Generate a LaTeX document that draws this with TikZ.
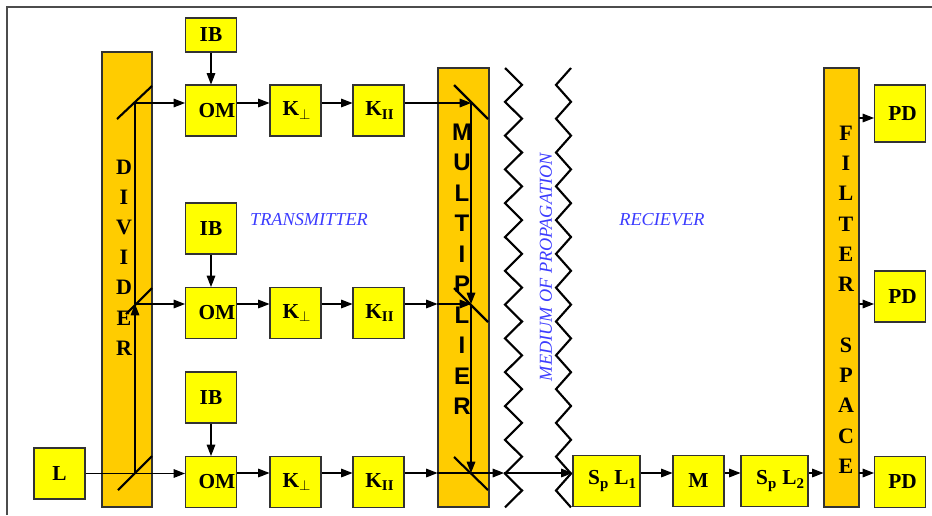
\documentclass[tikz,border=0pt]{standalone}
\usepackage{fontspec}
\setmainfont{Liberation Serif}
\newfontfamily\arialfont{Liberation Sans}
\usetikzlibrary{arrows.meta, positioning}
\definecolor{boxyellow}{RGB}{255,255,0}
\definecolor{barorange}{RGB}{255,204,0}
\definecolor{textblue}{RGB}{60,60,255}
\begin{document}
\begin{tikzpicture}[x=0.75pt, y=-0.75pt, line width=0.8pt, >={Triangle[length=8.5pt,width=6.5pt]}]
	\tikzset{block/.style={draw=black!80, fill=boxyellow, minimum width=38.25pt, minimum height=38.25pt, inner sep=0pt, font=\fontsize{16}{18}\selectfont\bfseries}}
	\tikzset{bar/.style={draw=black!80, fill=barorange, inner sep=0pt}}
	\tikzset{barText/.style={inner sep=0pt, font=\fontsize{16.5}{18}\selectfont\bfseries}}
	\tikzset{mirror/.style={line width=1.6pt}}
	\tikzset{zig/.style={line width=1.6pt, line join=miter}}
	\tikzset{note/.style={inner sep=0pt, text=textblue, font=\fontsize{13.7}{15}\selectfont\itshape}}
		\useasboundingbox (0,0) rectangle (932,515);
		\draw[black!70, line width=1.2pt] (7,515) -- (7,7) -- (932,7);
		% bars
		\node[bar, minimum width=37.5pt, minimum height=341.25pt] (div) at (127,279.5) {};
		\node[bar, minimum width=38.25pt, minimum height=329.25pt] (mul) at (463.5,287.5) {};
		\node[bar, minimum width=26.25pt, minimum height=329.25pt] (flt) at (841.5,287.5) {};
		% zigzag medium
		\draw[zig] plot[samples at={0,...,26}] ({505+17*mod(\x,2)}, {68+16.9*\x});
		\draw[zig] plot[samples at={0,...,26}] ({571-15*mod(\x,2)}, {68+16.9*\x});
		% blocks
		\node[block, minimum height=25.5pt] (ib1) at (211,35) {IB};
		\node[block] (ib2) at (211,228.5) {IB};
		\node[block] (ib3) at (211,397.5) {IB};
		\foreach \r/\y in {1/110.5, 2/313, 3/482} {
			\node[block] (om\r) at (211,\y) {\hspace*{9pt}OM};
			\node[block] (kp\r) at (295.5,\y) {\hspace*{2pt}K\textsubscript{$\perp$}};
			\node[block] (kii\r) at (378.5,\y) {\hspace*{2pt}K\textsubscript{II}};
		}
		\node[block] (L) at (59.5,473.5) {\raisebox{-5pt}{L}};
		\node[block, minimum width=50.25pt] (spl1) at (606.5,481) {\hspace*{9pt}S\textsubscript{p} L\textsubscript{1}};
		\node[block] (m) at (698.5,481) {M};
		\node[block, minimum width=50.25pt] (spl2) at (774.5,481) {\hspace*{9pt}\raisebox{4pt}{S\textsubscript{p} L\textsubscript{2}}};
		\node[block, minimum height=42.75pt] (pd1) at (900,113.5) {\hspace*{4pt}PD};
		\node[block] (pd2) at (900,296.5) {\hspace*{4pt}PD};
		\node[block] (pd3) at (900,482) {\hspace*{4pt}\raisebox{-3pt}{PD}};
		% mirrors
		\draw[mirror] (117,119) -- (152,86);
		\draw[mirror] (126,314) -- (152,288);
		\draw[mirror] (118,490) -- (152,456);
		\draw[mirror] (454,85) -- (488,119);
		\draw[mirror] (454,288) -- (488,322);
		\draw[mirror] (454,457) -- (488,490);
		% junctions
		\foreach \r/\y in {1/103, 2/304, 3/473} {
			\coordinate (dj\r) at (135,\y);
			\coordinate (mj\r) at (471,\y);
		}
		\coordinate (zj) at (504,473);
		\foreach \r/\y in {1/118, 2/304, 3/473} {\coordinate (fj\r) at (859,\y);}
		% divider paths
		\draw[->] (L) -- (L -| om3.west);
		\draw[->] (dj3) -- (dj2);
		\draw (dj2) -- (dj1);
		\draw[->] (dj1) -- (dj1 -| om1.west);
		\draw[->] (dj2) -- (dj2 -| om2.west);
		\draw[->] (ib1) -- (om1);
		\draw[->] (ib2) -- (om2);
		\draw[->] (ib3) -- (om3);
		\foreach \r in {1,2,3} {
			\draw[->] (om\r.east |- dj\r) -- (kp\r.west |- dj\r);
			\draw[->] (kp\r.east |- dj\r) -- (kii\r.west |- dj\r);
		}
		% multiplier paths
		\draw[->] (kii1.east |- mj1) -- (mj1);
		\draw[->] (kii2.east |- mj2) -- (mj2 -| mul.west);
		\draw[->] (mj2 -| mul.west) -- (mj2);
		\draw[->] (kii3.east |- mj3) -- (mj3 -| mul.west);
		\draw[->] (mj3 -| mul.west) -- (zj);
		\draw[->] (mj1) -- (mj2);
		\draw[->] (mj2) -- (mj3);
		% receiver
		\draw[->] (zj) -- (zj -| spl1.west);
		\draw[->] (spl1.east |- zj) -- (m.west |- zj);
		\draw[->] (m.east |- zj) -- (spl2.west |- zj);
		\draw[->] (spl2.east |- zj) -- (flt.west |- zj);
		\foreach \r in {1,2,3} {\draw[->] (fj\r) -- (fj\r -| pd\r.west);}
		% bar letters
		\foreach \ch [count=\i from 0] in {D,I,V,I,D,E,R} {\node[barText] (divL\i) at (124,167+30.2*\i) {\ch};}
		\foreach \ch [count=\i from 0] in {M,U,L,T,I,P,L,I,E,R} {\node[barText, font=\fontsize{18}{20}\selectfont\bfseries\arialfont] (mulL\i) at (462,132+30.5*\i) {\ch};}
		\foreach \ch/\k in {F/0, I/1, L/2, T/3, E/4, R/5, S/7, P/8, A/9, C/10, E/11} {\node[barText] (fltL\k) at (846,133+30.3*\k) {\ch};}
		% labels
		\node[note] (tx) at (309,220) {TRANSMITTER};
		\node[note] (rx) at (662,220) {RECIEVER};
		\node[note, rotate=90] (med) at (546,267) {MEDIUM OF PROPAGATION};
\end{tikzpicture}
\end{document}
